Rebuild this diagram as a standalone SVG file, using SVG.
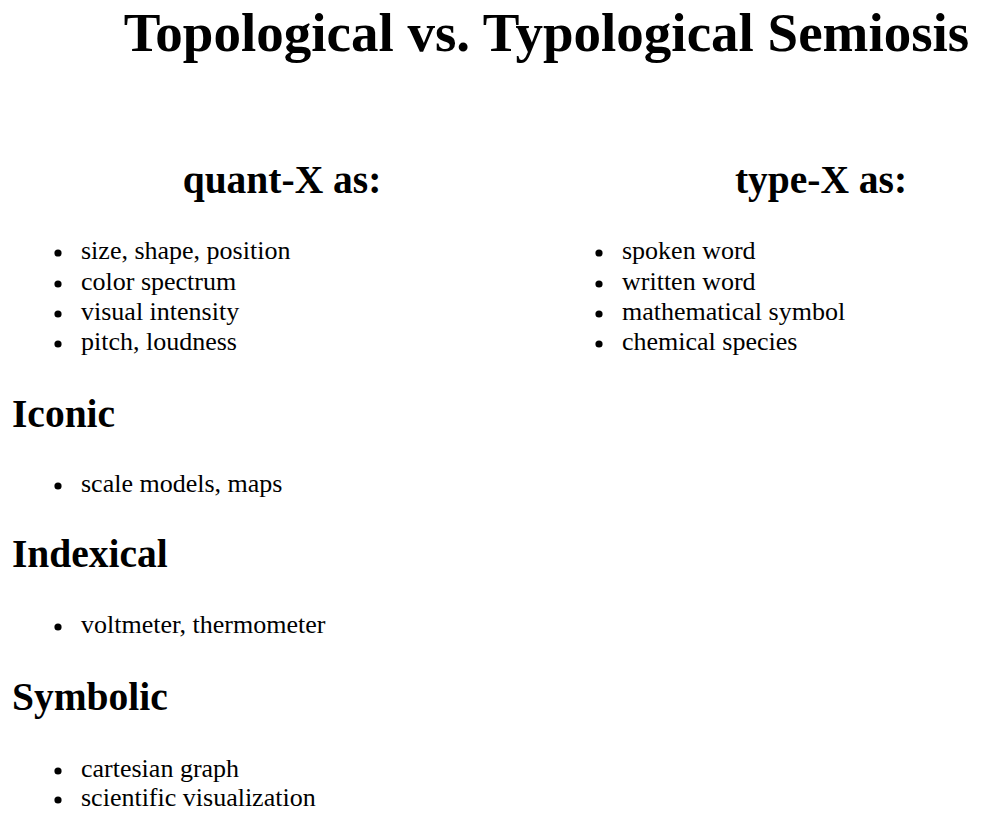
<svg xmlns="http://www.w3.org/2000/svg" width="981" height="813" viewBox="0 0 981 813">
<style>
text { font-family: "Liberation Serif", "Times New Roman", serif; fill: #000; }
.title { font-size: 55px; font-weight: bold; }
.h2 { font-size: 39.5px; font-weight: bold; }
.item { font-size: 26px; }
.bullet { fill: #000; }
</style>
<rect x="0" y="0" width="981" height="813" fill="#fff"/>
<g id="title"><text class="title" x="546.5" y="51" text-anchor="middle">Topological vs. Typological Semiosis</text></g>
<g id="quant">
<text class="h2" x="282" y="193" text-anchor="middle">quant-X as:</text>
<circle class="bullet" cx="58" cy="253" r="3.6"/><text class="item" x="81" y="259">size, shape, position</text>
<circle class="bullet" cx="58" cy="284" r="3.6"/><text class="item" x="81" y="290">color spectrum</text>
<circle class="bullet" cx="58" cy="314" r="3.6"/><text class="item" x="81" y="320">visual intensity</text>
<circle class="bullet" cx="58" cy="344" r="3.6"/><text class="item" x="81" y="350">pitch, loudness</text>
</g>
<g id="type">
<text class="h2" x="821" y="193" text-anchor="middle">type-X as:</text>
<circle class="bullet" cx="599" cy="253" r="3.6"/><text class="item" x="622" y="259">spoken word</text>
<circle class="bullet" cx="599" cy="284" r="3.6"/><text class="item" x="622" y="290">written word</text>
<circle class="bullet" cx="599" cy="314" r="3.6"/><text class="item" x="622" y="320">mathematical symbol</text>
<circle class="bullet" cx="599" cy="344" r="3.6"/><text class="item" x="622" y="350">chemical species</text>
</g>
<g id="iconic">
<text class="h2" x="12" y="427">Iconic</text>
<circle class="bullet" cx="58" cy="486" r="3.6"/><text class="item" x="81" y="492">scale models, maps</text>
</g>
<g id="indexical">
<text class="h2" x="12" y="567">Indexical</text>
<circle class="bullet" cx="58" cy="627" r="3.6"/><text class="item" x="81" y="633">voltmeter, thermometer</text>
</g>
<g id="symbolic">
<text class="h2" x="12" y="710">Symbolic</text>
<circle class="bullet" cx="58" cy="771" r="3.6"/><text class="item" x="81" y="777">cartesian graph</text>
<circle class="bullet" cx="58" cy="800" r="3.6"/><text class="item" x="81" y="806">scientific visualization</text>
</g>
<g id="connectors"></g>
</svg>
